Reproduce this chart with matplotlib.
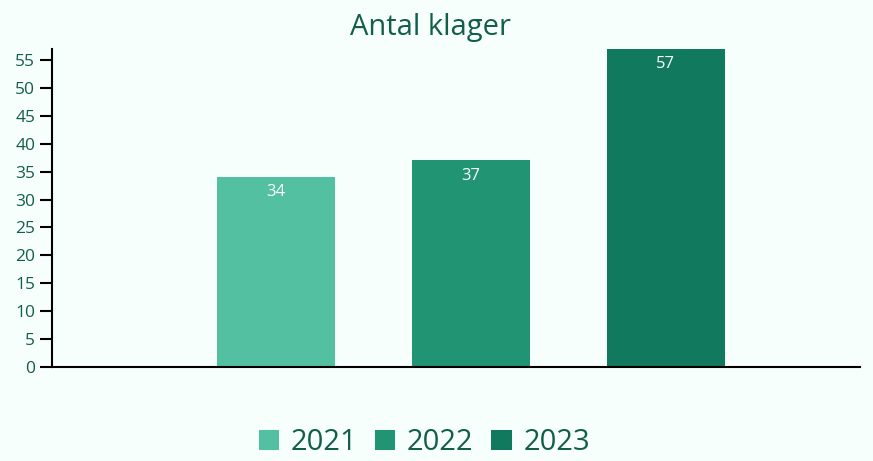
import matplotlib.pyplot as plt
import matplotlib
from matplotlib.patches import Patch

matplotlib.rcParams.update({
    'font.family': ['Open Sans', 'DejaVu Sans'],
})

# data
years = ['2021', '2022', '2023']
klager = [34, 37, 57]
colors = ['#52c0a1', '#219474', '#10795e']
yticks = list(range(0, 60, 5))

bg = '#f7fffd'
txt = '#135e4a'

fig = plt.figure(figsize=(8.73, 4.61), dpi=100, facecolor=bg)
ax = fig.add_axes([0.0596, 0.204, 0.9254, 0.69])
ax.set_facecolor(bg)

pos = list(range(len(years)))
bars = ax.bar(pos, klager, width=0.605, color=colors)

for b, v in zip(bars, klager):
    ax.text(b.get_x() + b.get_width() / 2, v - 2.7, str(v),
            ha='center', va='center', color='white', fontsize=12)

ax.set_xlim(-1.149, 2.995)
ax.set_ylim(0, 57)
ax.set_yticks(yticks)
ax.set_xticks([])
ax.tick_params(axis='y', colors='black', labelcolor=txt, labelsize=12.5,
               length=9, width=1.5, pad=3)

for s in ['top', 'right']:
    ax.spines[s].set_visible(False)
for s in ['left', 'bottom']:
    ax.spines[s].set_linewidth(1.5)
    ax.spines[s].set_color('black')

fig.text(0.493, 0.94, 'Antal klager', ha='center', va='center',
         color=txt, fontsize=21)

handles = [Patch(facecolor=c, edgecolor='none') for c in colors]
fig.legend(handles, years, loc='center', bbox_to_anchor=(0.486, 0.04),
           ncol=3, frameon=False, fontsize=21, labelcolor=txt,
           handlelength=0.7, handleheight=0.7, handletextpad=0.4,
           columnspacing=0.6, borderpad=0)

fig.savefig('out.png', dpi=100, facecolor=bg)
